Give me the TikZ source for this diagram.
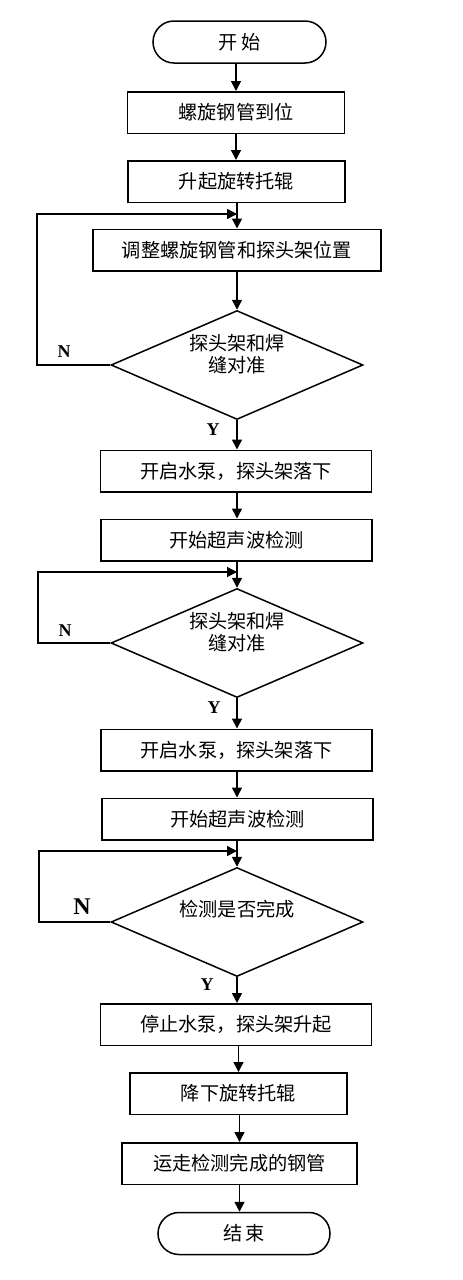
\documentclass[tikz,border=0pt]{standalone}
\usepackage{fontspec}
\setmainfont{Liberation Serif}
\newfontfamily\cjk{Noto Sans CJK SC}
\usetikzlibrary{shapes.geometric,arrows.meta}
\begin{document}
\begin{tikzpicture}[x=0.5pt,y=-0.5pt,
  every path/.style={line width=0.75pt},
  proc/.style={draw, rectangle, minimum height=20.75pt, inner sep=0pt, font=\cjk\fontsize{9.6pt}{12pt}\selectfont},
  term/.style={draw, rectangle, rounded corners=10.5pt, minimum height=21pt, inner sep=0pt, font=\cjk\fontsize{9.6pt}{12pt}\selectfont},
  decis/.style={draw, diamond, minimum width=126pt, minimum height=54.5pt, inner sep=0pt},
  dtext/.style={align=center, inner sep=0pt, font=\cjk\fontsize{9.6pt}{11pt}\selectfont},
  yn/.style={font=\bfseries\fontsize{9pt}{10pt}\selectfont, inner sep=0pt},
  arr/.style={-{Triangle[length=5pt,width=5pt]}}
]
\useasboundingbox (0,0) rectangle (462,1280);

\node[term, minimum width=86.5pt] (start) at (239.5,42) {开\,始};
\node[proc, minimum width=108.5pt] (b1) at (236,112.5) {螺旋钢管到位};
\node[proc, minimum width=108.5pt] (b2) at (236.5,181.5) {升起旋转托辊};
\node[proc, minimum width=144pt] (b3) at (237,250) {调整螺旋钢管和探头架位置};
\node[decis] (d1) at (237,365) {};
\node[dtext] (t1) at (237,354) {探头架和焊\\缝对准};
\node[yn] (n1) at (64,352) {N};
\node[yn] (y1) at (213,430) {Y};

\node[proc, minimum width=135.5pt] (b4) at (236,471) {开启水泵，探头架落下};
\node[proc, minimum width=135.5pt] (b5) at (236.5,540) {开始超声波检测};
\node[decis] (d2) at (237,643) {};
\node[dtext] (t2) at (237,632) {探头架和焊\\缝对准};
\node[yn] (n2) at (65,631) {N};
\node[yn] (y2) at (214,708) {Y};

\node[proc, minimum width=135.5pt] (b6) at (236.5,750) {开启水泵，探头架落下};
\node[proc, minimum width=135.5pt] (b7) at (237.5,819) {开始超声波检测};
\node[decis] (d3) at (237,922) {};
\node[dtext] (t3) at (237,909) {检测是否完成};
\node[yn, font=\bfseries\fontsize{12pt}{13pt}\selectfont] (n3) at (82,907) {N};
\node[yn] (y3) at (207,985) {Y};

\node[proc, minimum width=135.5pt] (b8) at (236,1024.5) {停止水泵，探头架升起};
\node[proc, minimum width=108.5pt] (b9) at (238.5,1093.5) {降下旋转托辊};
\node[proc, minimum width=117.5pt] (b10) at (239.5,1163.5) {运走检测完成的钢管};
\node[term, minimum width=86pt] (end) at (244,1233.5) {结\,束};

\coordinate (L1) at (37,214);
\coordinate (L2) at (38,572);
\coordinate (L3) at (39,851);

% main flow
\draw[arr] (start.south -| b1) -- (b1.north);
\draw[arr] (b1.south) -- (b2.north -| b1);
\draw[arr] (b2.south -| b3) -- (b3.north);
\draw[arr] (b3.south) -- (d1.north);
\draw[arr] (d1.south) -- (b4.north -| d1);
\draw[arr] (b4.south -| d1) -- (b5.north -| d1);
\draw[arr] (b5.south -| d2) -- (d2.north);
\draw[arr] (d2.south) -- (b6.north -| d2);
\draw[arr] (b6.south -| d3) -- (b7.north -| d3);
\draw[arr] (b7.south -| d3) -- (d3.north);
\draw[arr] (d3.south) -- (b8.north -| d3);
\draw[arr] (b8.south -| b9) -- (b9.north);
\draw[arr] (b9.south -| b10) -- (b10.north);
\draw[arr] (b10.south) -- (end.north -| b10);

% loops
\draw[arr] (d1.west) -| (L1) -- (L1 -| b3);
\draw[arr] (d2.west) -| (L2) -- (L2 -| d2);
\draw[arr] (d3.west) -| (L3) -- (L3 -| d3);
\end{tikzpicture}
\end{document}
